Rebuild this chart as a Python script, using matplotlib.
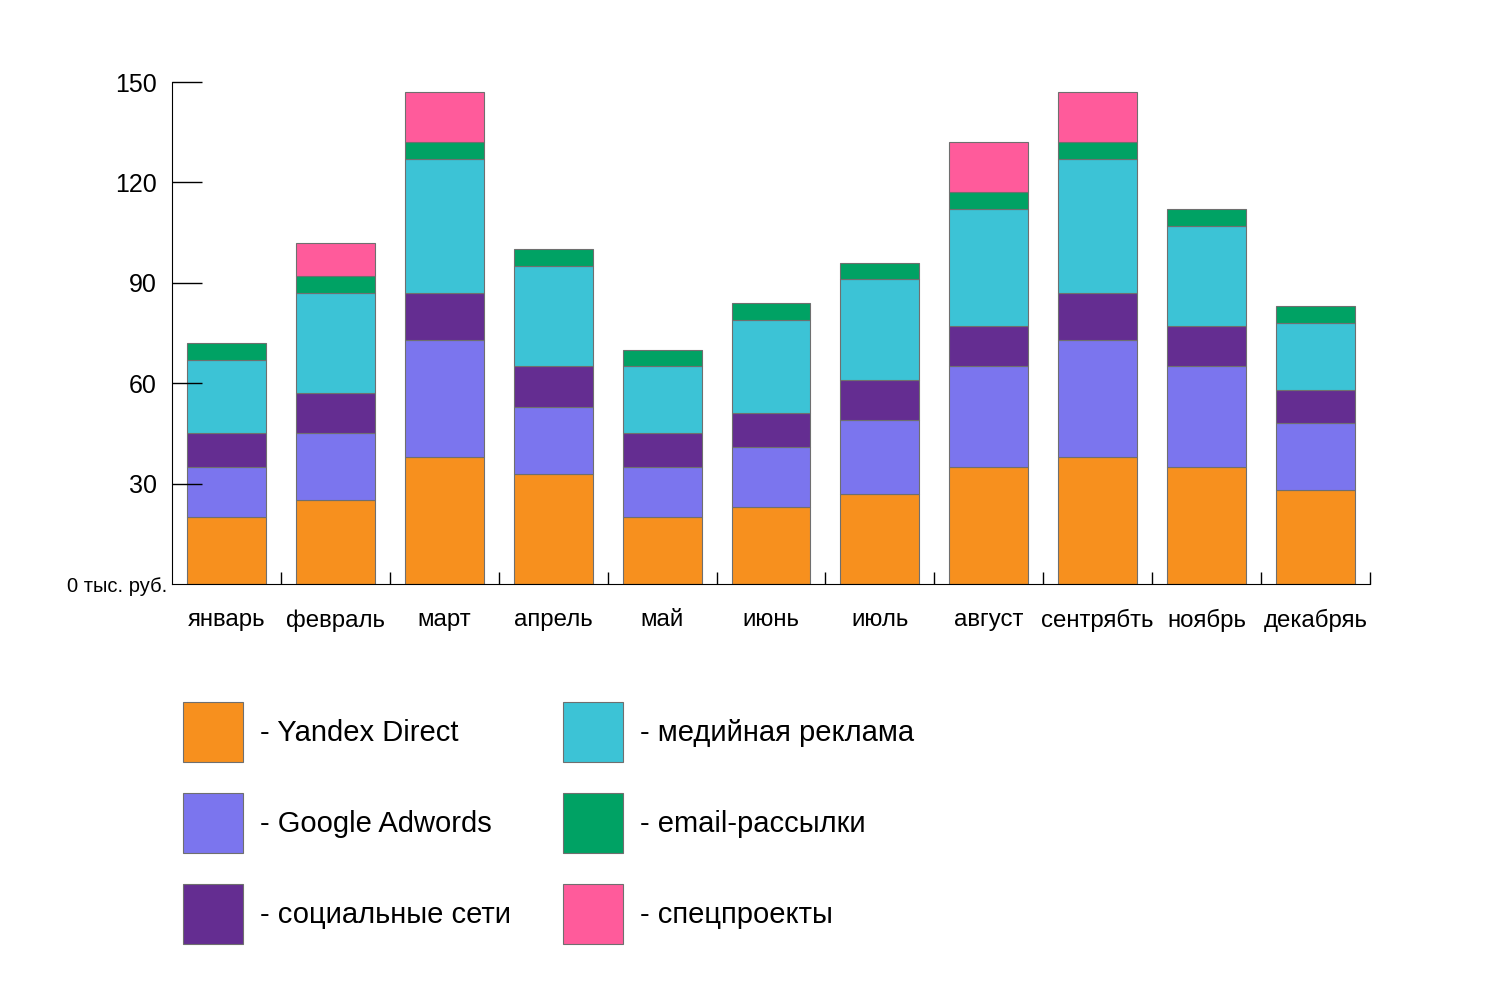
import matplotlib
matplotlib.use('Agg')
import matplotlib.pyplot as plt
import matplotlib.transforms as mtransforms
import numpy as np

plt.rcParams['font.family'] = ['Liberation Sans', 'DejaVu Sans']

months = ['январь', 'февраль', 'март', 'апрель', 'май', 'июнь',
          'июль', 'август', 'сентрябть', 'ноябрь', 'декабряь']

# segment values, thousand rubles
yandex = [20, 25, 38, 33, 20, 23, 27, 35, 38, 35, 28]
google = [15, 20, 35, 20, 15, 18, 22, 30, 35, 30, 20]
social = [10, 12, 14, 12, 10, 10, 12, 12, 14, 12, 10]
media = [22, 30, 40, 30, 20, 28, 30, 35, 40, 30, 20]
email = [5, 5, 5, 5, 5, 5, 5, 5, 5, 5, 5]
special = [0, 10, 15, 0, 0, 0, 0, 15, 15, 0, 0]

series = [
    ('- Yandex Direct', yandex, '#F7901E'),
    ('- Google Adwords', google, '#7B75EE'),
    ('- социальные сети', social, '#642D91'),
    ('- медийная реклама', media, '#3CC3D6'),
    ('- email-рассылки', email, '#00A264'),
    ('- спецпроекты', special, '#FF5B9B'),
]

W, H = 1490, 989
fig = plt.figure(figsize=(W / 100, H / 100), dpi=100)
ax = fig.add_axes([172 / W, 1 - 584 / H, (1370 - 172) / W, (584 - 82) / H])

x = np.arange(len(months))
bottom = np.zeros(len(months))
handles = []
for label, vals, color in series:
    vals = np.array(vals, dtype=float)
    mask = vals > 0
    bars = ax.bar(x[mask], vals[mask], bottom=bottom[mask], width=0.725,
                  color=color, edgecolor='#6f6f6f', linewidth=0.8, label=label)
    handles.append(bars)
    bottom += vals

ax.set_xlim(-0.5, len(months) - 0.5)
ax.set_ylim(0, 150)

for s in ['top', 'right']:
    ax.spines[s].set_visible(False)

ax.set_yticks([0, 30, 60, 90, 120, 150])
ax.set_yticklabels(['0 тыс. руб.', '30', '60', '90', '120', '150'])
ax.tick_params(axis='y', direction='in', length=21.6, width=1.0, labelsize=18, pad=11)
ax.yaxis.get_major_ticks()[0].tick1line.set_visible(False)
zero_lbl = ax.get_yticklabels()[0]
zero_lbl.set_fontsize(14.5)
zero_lbl.set_transform(zero_lbl.get_transform() +
                       mtransforms.ScaledTranslation(11 / 100, 0, fig.dpi_scale_trans))

ax.set_xticks(x)
ax.set_xticklabels(months)
ax.tick_params(axis='x', length=0, labelsize=17.3, pad=18)
ax.set_xticks(np.arange(len(months)) + 0.5, minor=True)
ax.tick_params(axis='x', which='minor', direction='in', length=8.6, width=1.0)

fig.legend(handles=handles, loc='upper left', bbox_to_anchor=(183 / W, 1 - 702 / H),
           ncol=2, frameon=False, fontsize=21, borderpad=0, borderaxespad=0,
           handlelength=2.06, handleheight=2.79, handletextpad=0.58,
           labelspacing=1.06, columnspacing=1.78)

fig.savefig('out.png', dpi=100)
